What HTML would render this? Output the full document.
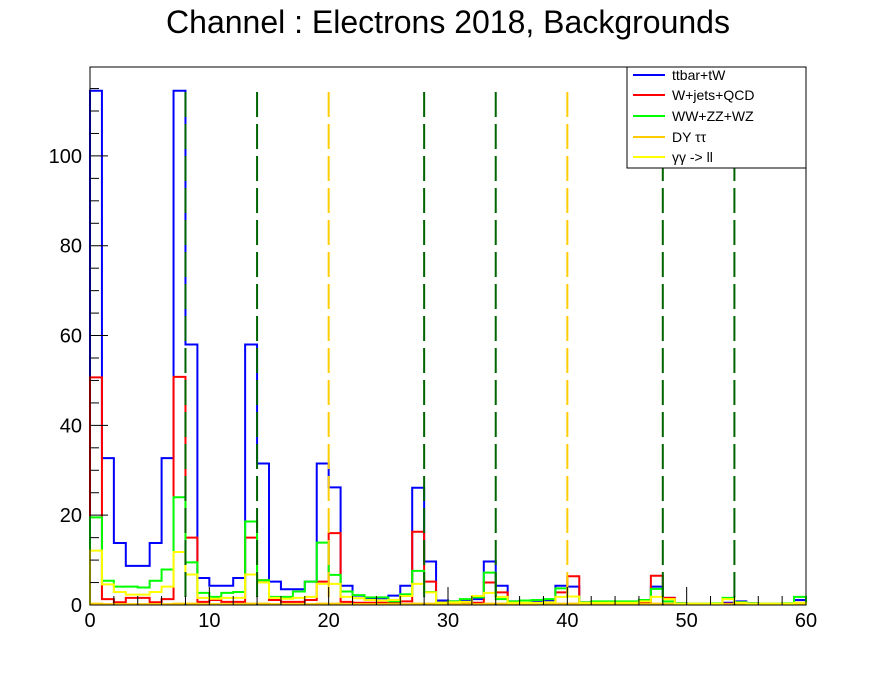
<!DOCTYPE html>
<html><head><meta charset="utf-8"><style>
body{margin:0;background:#fff;}
svg text{font-family:"Liberation Sans",Arial,sans-serif;}
</style></head><body>
<svg id="chart" width="896" height="672" viewBox="0 0 896 672" xmlns="http://www.w3.org/2000/svg">
<rect width="896" height="672" fill="#fff"/>
<text x="448" y="33" font-size="32" text-anchor="middle">Channel : Electrons 2018, Backgrounds</text>
<g id="plot"></g>
<g id="axes"></g>
<g>
<rect x="627" y="67" width="179" height="101" fill="#fff" stroke="#000" stroke-width="1"/>
<g><line x1="633" y1="75" x2="665" y2="75" stroke="#0000ff" stroke-width="2"/><text x="672" y="80" font-size="14">ttbar+tW</text></g>
<g><line x1="633" y1="95" x2="665" y2="95" stroke="#ff0000" stroke-width="2"/><text x="672" y="100" font-size="14">W+jets+QCD</text></g>
<g><line x1="633" y1="116" x2="665" y2="116" stroke="#00ff00" stroke-width="2"/><text x="672" y="121" font-size="14">WW+ZZ+WZ</text></g>
<g><line x1="633" y1="137" x2="665" y2="137" stroke="#ffcc00" stroke-width="2"/><text x="672" y="142" font-size="14">DY ττ</text></g>
<g><line x1="633" y1="157" x2="665" y2="157" stroke="#ffff00" stroke-width="2"/><text x="672" y="162" font-size="14">γγ -&gt; ll</text></g>
</g>
</svg>
<script>
const ttbar=[114.5,32.7,13.8,8.7,8.7,13.8,32.7,114.5,58,6,4.3,4.3,6,58,31.5,5.2,3.5,3.5,5.2,31.5,26.2,4.3,2.1,1.5,1.5,2.1,4.3,26.1,9.7,1,0.8,1,1.3,9.7,4.3,0.8,0.4,0.8,1,4.3,4.1,0.6,0.5,0.5,0.5,0.5,0.6,4.1,1.6,0.4,0.3,0.3,0.3,0.5,0.8,0.4,0.3,0.3,0.3,1.1];
const wjets=[50.7,1.3,0.6,1.6,1.6,0.6,1.3,50.8,15,0.7,1.1,0.7,0.7,15,5.5,1.1,0.7,0.7,1.1,5.2,16,0.7,0.5,0.5,0.5,0.5,0.8,16.3,5.2,0.5,0.4,0.4,0.5,5,2.8,0.4,0.3,0.3,0.4,2.8,6.4,0.5,0.3,0.3,0.3,0.3,0.4,6.5,1.6,0.3,0.2,0.2,0.2,0.3,0.5,0.2,0.2,0.2,0.2,0.5];
const diboson=[19.5,5.4,4.1,4.1,3.9,5.4,7.9,24,9.5,2.7,1.8,2.7,2.9,18.6,5.5,1.8,1.8,3,5.2,13.9,6.7,3,2.2,1.7,1.7,0.8,2.4,7.6,2.9,0.5,0.8,1.3,1.7,7.2,1.3,0.8,1,1.1,1.3,3.7,1.9,0.6,0.8,0.8,0.8,0.8,1.1,3.6,0.8,0.4,0.3,0.3,0.4,1.6,0.6,0.4,0.3,0.3,0.4,1.8];
const dytautau=[0.3,0.2,0.2,0.2,0.2,0.2,0.2,0.3,0.3,0.2,0.2,0.2,0.2,0.3,0.3,0.2,0.2,0.2,0.2,0.3,0.3,0.2,0.2,0.2,0.2,0.2,0.2,0.3,0.3,0.2,0.2,0.2,0.2,0.3,0.3,0.2,0.2,0.2,0.2,0.3,0.3,0.2,0.2,0.2,0.2,0.2,0.2,0.3,0.3,0.2,0.2,0.2,0.2,0.2,0.2,0.2,0.2,0.2,0.2,0.2];
const gammagamma=[12.1,4.6,2.9,2.3,2.3,2.9,4.1,11.8,6.8,1.6,1.4,1.6,1.6,6.8,5,1.6,1.4,1.6,1.8,4.7,4.7,1.8,1.5,1.1,1.0,1.1,2,4.7,2.8,0.5,0.6,0.7,2,2.7,1.8,0.5,0.5,0.5,0.6,1.8,1.9,0.5,0.5,0.5,0.5,0.5,0.8,1.8,1.3,0.3,0.3,0.3,0.3,1.3,0.5,0.3,0.3,0.3,0.3,0.5];
const greenCuts=[8,14,28,34,48,54];
const orangeCuts=[20,40];
const xTicks=[0,10,20,30,40,50,60];
const yTicks=[0,20,40,60,80,100];

const X0=90,X1=806,Y0=605,Y1=67,XMAX=60,YMAX=119.8;
const xs=v=>X0+(X1-X0)*v/XMAX;
const ys=v=>Y0-(Y0-Y1)*v/YMAX;
const NS="http://www.w3.org/2000/svg";
const plot=document.getElementById('plot');
const axes=document.getElementById('axes');
function mk(tag,attrs,parent){const e=document.createElementNS(NS,tag);for(const k in attrs)e.setAttribute(k,attrs[k]);parent.appendChild(e);return e;}

function hist(vals,color,name){
  let d='M'+xs(0)+','+ys(0);
  vals.forEach((v,i)=>{d+=' L'+xs(i)+','+ys(v)+' L'+xs(i+1)+','+ys(v);});
  d+=' L'+xs(vals.length)+','+ys(0);
  const p=mk('path',{d:d,fill:'none',stroke:color,'stroke-width':2},plot);
  
  
}
hist(ttbar,'#0000ff','ttbar-histogram');
hist(wjets,'#ff0000','wjets-histogram');
hist(diboson,'#00ff00','diboson-histogram');
hist(dytautau,'#ffcc00','dy-histogram');
hist(gammagamma,'#ffff00','gammagamma-histogram');

greenCuts.forEach(c=>{
  const l=mk('line',{x1:xs(c),x2:xs(c),y1:92,y2:Y0,stroke:'#006400','stroke-width':2,'stroke-dasharray':'25,7'},plot);
  
  
});
orangeCuts.forEach(c=>{
  const l=mk('line',{x1:xs(c),x2:xs(c),y1:92,y2:Y0,stroke:'#ffcc00','stroke-width':2,'stroke-dasharray':'25,7'},plot);
  
  
});

const frame=mk('rect',{x:X0,y:Y1,width:X1-X0,height:Y0-Y1,fill:'none',stroke:'#000','stroke-width':1},axes);



for(let v=0;v<=XMAX;v+=2){
  const len=(v%10===0)?18:9;
  const t=mk('line',{x1:xs(v),x2:xs(v),y1:Y0,y2:Y0-len,stroke:'#000','stroke-width':1},axes);
  
  
}
for(let v=0;v<=YMAX;v+=5){
  const len=(v%20===0)?18:9;
  const t=mk('line',{x1:X0,x2:X0+len,y1:ys(v),y2:ys(v),stroke:'#000','stroke-width':1},axes);
  
  
}
xTicks.forEach(v=>{
  const t=mk('text',{x:xs(v),y:627,'font-size':20,'text-anchor':'middle'},axes);
  t.textContent=v;
  
  
});
yTicks.forEach(v=>{
  const t=mk('text',{x:82,y:ys(v)+7,'font-size':20,'text-anchor':'end'},axes);
  t.textContent=v;
  
  
});
</script>
</body></html>
